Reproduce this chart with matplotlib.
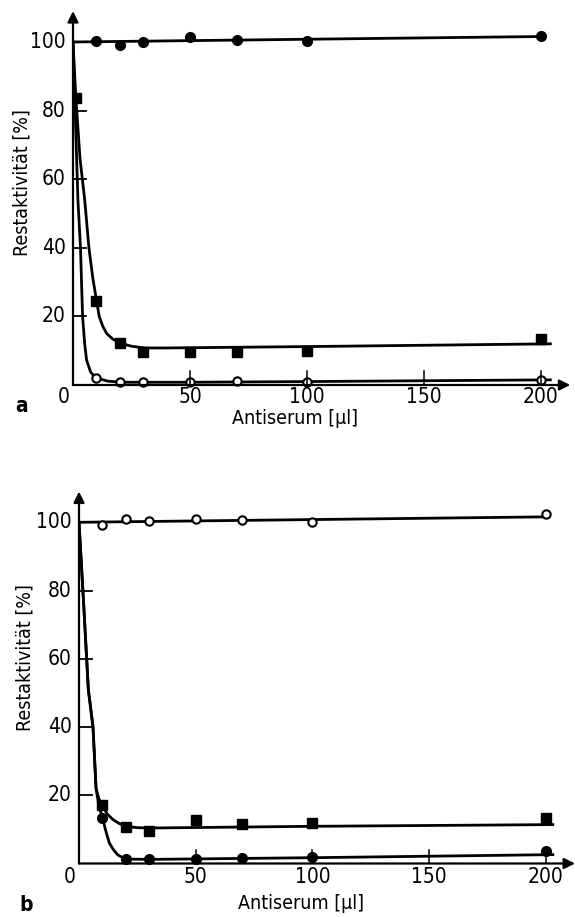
import matplotlib.pyplot as plt

plt.rcParams['font.family'] = ['DejaVu Sans']
plt.rcParams['font.stretch'] = 'condensed'

# Messpunkte (x = Antiserum in µl, y = Restaktivität in %)
x_pts = [10, 20, 30, 50, 70, 100, 200]

# Teil a
a_voll_kreis = [100.2, 99.0, 100.0, 101.4, 100.5, 100.3, 101.7]
a_quadrat_x = [1.2, 10, 20, 30, 50, 70, 100, 200]
a_quadrat = [83.6, 24.5, 12.2, 9.7, 9.6, 9.6, 10.0, 13.4]
a_offen_kreis = [1.9, 0.8, 0.8, 1.0, 1.2, 1.0, 1.5]

# Kurven a
a_kurve_oben_x = [0, 200]
a_kurve_oben_y = [100, 101.6]
a_kurve_quad_x = [0, 1.2, 3.0, 5.0, 6.8, 8.5, 10.1, 11.2, 12.8, 14.4, 17, 20.8, 25, 30.6, 40, 100, 204]
a_kurve_quad_y = [100, 84, 66, 54, 40, 31, 24.5, 20, 17, 15, 13.4, 12.1, 11.3, 10.8, 10.8, 11.2, 12.0]
a_kurve_offen_x = [0, 1.0, 2.1, 3.2, 4.1, 5.0, 5.8, 7.5, 9.0, 10.8, 15, 21, 50, 100, 204]
a_kurve_offen_y = [100, 78, 54, 40, 20, 12, 7.3, 3.8, 2.6, 1.9, 1.1, 0.8, 0.8, 1.0, 1.5]

# Teil b
b_offen_kreis = [99.3, 101.0, 100.5, 101.0, 100.7, 100.2, 102.3]
b_quadrat = [17.2, 10.7, 9.4, 12.7, 11.7, 12.0, 13.4]
b_voll_kreis = [13.4, 1.3, 1.3, 1.3, 1.5, 2.0, 3.7]

b_kurve_oben_x = [0, 200]
b_kurve_oben_y = [100, 101.6]
b_kurve_quad_x = [0, 2.0, 4.0, 6.0, 7.3, 8.5, 10, 12, 14.5, 17, 20.2, 25, 30, 100, 203]
b_kurve_quad_y = [100, 76, 51, 40, 22, 19, 17, 14.6, 12.9, 11.8, 10.9, 10.5, 10.4, 10.9, 11.4]
b_kurve_voll_x = [0, 2.0, 4.0, 6.0, 7.3, 8.5, 10, 11.5, 13, 14.8, 16.5, 18.5, 20.2, 30, 100, 203]
b_kurve_voll_y = [100, 76, 51, 40, 22, 17, 13.5, 9.5, 6.0, 4.0, 2.6, 1.8, 1.3, 1.2, 1.7, 2.6]

x_ticks = [0, 50, 100, 150, 200]
y_ticks = [20, 40, 60, 80, 100]

W, H = 575, 917
fig = plt.figure(figsize=(W / 100, H / 100), dpi=100)


def achsen(x0_px, y0_px, ppx, ppy):
    xmax, ymax = 213, 110
    ax = fig.add_axes([x0_px / W, 1 - y0_px / H, xmax * ppx / W, ymax * ppy / H])
    ax.set_xlim(0, xmax)
    ax.set_ylim(0, ymax)
    for s in ax.spines.values():
        s.set_visible(False)
    ax.patch.set_alpha(0)
    return ax


def rahmen(ax, label, ylab_x, ylab_y, tick_y, xlab_y, lab_x, lab_y):
    kw = dict(arrowstyle='-|>', lw=1.6, color='k', mutation_scale=16, shrinkA=0, shrinkB=0)
    ax.annotate('', xy=(212.5, 0), xytext=(0, 0), arrowprops=kw, annotation_clip=False)
    ax.annotate('', xy=(0, 109), xytext=(0, 0), arrowprops=kw, annotation_clip=False)
    for t in y_ticks[:-1]:
        ax.plot([0, 5.5], [t, t], color='k', lw=1.3)
    for t in x_ticks[1:]:
        ax.plot([t, t], [0, 4], color='k', lw=1.1)
    ax.set_xticks([])
    ax.set_yticks([])
    for t in x_ticks:
        ax.text(t - 4 * (t == 0), tick_y, str(t), ha='center', va='center', fontsize=15)
    for t in y_ticks:
        ax.text(-3, t, str(t), ha='right', va='center', fontsize=15)
    ax.text(95, xlab_y, 'Antiserum [µl]', ha='center', va='center', fontsize=14)
    ax.text(ylab_x, ylab_y, 'Restaktivität [%]', rotation=90, ha='center', va='center', fontsize=14)
    ax.text(lab_x, lab_y, label, ha='center', va='center', fontsize=15, fontweight='bold')


lw = 2.0
# --- a ---
ax1 = achsen(73, 385, 2.34, 3.43)
ax1.plot(a_kurve_oben_x, a_kurve_oben_y, color='k', lw=lw)
ax1.plot(a_kurve_quad_x, a_kurve_quad_y, color='k', lw=lw)
ax1.plot(a_kurve_offen_x, a_kurve_offen_y, color='k', lw=lw)
ax1.plot(x_pts, a_voll_kreis, 'o', color='k', ms=7)
ax1.plot(a_quadrat_x, a_quadrat, 's', color='k', ms=6.5)
ax1.plot(x_pts, a_offen_kreis, 'o', mfc='white', mec='k', mew=1.5, ms=6, clip_on=False)
rahmen(ax1, 'a', -22, 59, -3.4, -9.8, -21.8, -6.0)

# --- b ---
ax2 = achsen(79, 863.5, 2.334, 3.412)
ax2.plot(b_kurve_oben_x, b_kurve_oben_y, color='k', lw=lw)
ax2.plot(b_kurve_quad_x, b_kurve_quad_y, color='k', lw=lw)
ax2.plot(b_kurve_voll_x, b_kurve_voll_y, color='k', lw=lw)
ax2.plot(x_pts, b_offen_kreis, 'o', mfc='white', mec='k', mew=1.5, ms=6)
ax2.plot(x_pts, b_quadrat, 's', color='k', ms=6.5)
ax2.plot(x_pts, b_voll_kreis, 'o', color='k', ms=7, clip_on=False)
rahmen(ax2, 'b', -23, 60.5, -4.1, -11.8, -22.7, -12.2)

fig.savefig('out.png', dpi=100)
